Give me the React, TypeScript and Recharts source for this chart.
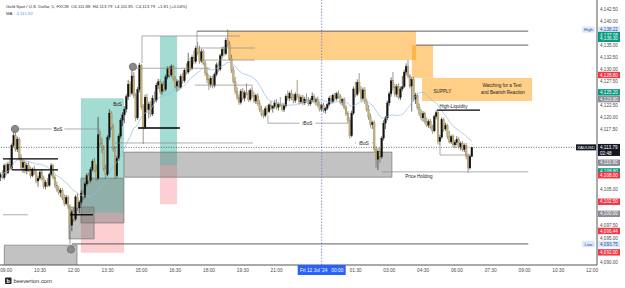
import { ComposedChart, Bar, Line, XAxis, YAxis, ReferenceArea, ReferenceLine, ReferenceDot } from "recharts";

// 5-minute XAUUSD bars, [open, high, low, close], first bar sits at slot FIRST_SLOT (slot 0 = 09:00)
const FIRST_SLOT = -3;
const candles: number[][] = [
  [4107.6, 4108.6, 4106.8, 4108.2], [4108.2, 4109.0, 4107.2, 4107.5], [4107.5, 4110.4, 4107.1, 4110.0], [4110.0, 4110.6, 4108.0, 4108.5],
  [4108.5, 4110.8, 4108.2, 4110.3], [4110.3, 4111.5, 4108.9, 4109.4], [4109.4, 4114.6, 4109.1, 4114.2], [4114.2, 4117.3, 4113.8, 4116.2],
  [4116.2, 4116.8, 4112.9, 4113.4], [4113.4, 4116.0, 4112.8, 4115.5], [4115.5, 4115.9, 4111.0, 4111.6], [4111.6, 4112.4, 4109.0, 4109.6],
  [4109.6, 4111.2, 4108.5, 4110.7], [4110.7, 4111.0, 4108.4, 4108.9],
  // s11..30
  [4108.9, 4110.6, 4108.2, 4110.1], [4110.1, 4110.9, 4108.7, 4109.2], [4109.2, 4109.8, 4107.4, 4107.9], [4107.9, 4109.6, 4107.6, 4109.3],
  [4109.3, 4110.0, 4108.1, 4108.5], [4108.5, 4109.2, 4106.3, 4106.8], [4106.8, 4107.9, 4105.6, 4107.4], [4107.4, 4109.0, 4107.0, 4108.6],
  [4108.6, 4109.3, 4106.9, 4107.3], [4107.3, 4107.9, 4105.2, 4105.7], [4105.7, 4107.0, 4105.1, 4106.5], [4106.5, 4107.4, 4105.5, 4105.9],
  [4105.9, 4108.6, 4105.6, 4108.2], [4108.2, 4110.5, 4107.8, 4110.0], [4110.0, 4110.3, 4107.1, 4107.6], [4107.6, 4108.1, 4105.4, 4105.9],
  [4105.9, 4106.7, 4104.6, 4105.1], [4105.1, 4105.8, 4103.9, 4104.4], [4104.4, 4105.4, 4103.5, 4104.9], [4104.9, 4105.3, 4102.8, 4103.3],
  // s31..37
  [4103.3, 4104.0, 4101.6, 4102.1], [4102.1, 4103.9, 4101.8, 4103.4], [4103.4, 4103.8, 4101.0, 4101.5], [4101.5, 4102.0, 4093.75, 4097.6],
  [4097.6, 4100.9, 4096.4, 4100.4], [4100.4, 4101.2, 4098.3, 4098.9], [4098.9, 4103.9, 4098.5, 4103.5],
  // s38..62
  [4103.5, 4104.3, 4100.6, 4101.2], [4101.2, 4102.8, 4100.1, 4102.4], [4102.4, 4104.8, 4101.9, 4104.3], [4104.3, 4105.0, 4102.9, 4103.5],
  [4103.5, 4106.6, 4103.2, 4106.2], [4106.2, 4108.4, 4105.8, 4107.9], [4107.9, 4108.6, 4106.2, 4106.9], [4106.9, 4109.7, 4106.5, 4109.2],
  [4109.2, 4111.3, 4108.8, 4110.9], [4110.9, 4111.6, 4108.6, 4109.0], [4109.0, 4110.2, 4106.9, 4107.4], [4107.4, 4120.1, 4107.0, 4116.4],
  [4116.4, 4117.3, 4114.0, 4114.6], [4114.6, 4115.8, 4112.6, 4113.3], [4113.3, 4114.2, 4108.8, 4109.4], [4109.4, 4110.2, 4107.2, 4108.1],
  [4108.1, 4116.3, 4107.8, 4115.9], [4115.9, 4121.7, 4115.3, 4120.9], [4120.9, 4121.3, 4117.4, 4118.0], [4118.0, 4118.6, 4112.9, 4113.6],
  [4113.6, 4114.0, 4107.2, 4107.9], [4107.9, 4112.0, 4107.5, 4111.4], [4111.4, 4116.6, 4111.0, 4116.1], [4116.1, 4119.9, 4115.6, 4119.4],
  [4119.4, 4121.1, 4118.2, 4120.5],
  // s63..74
  [4120.5, 4122.3, 4118.8, 4121.7], [4121.7, 4124.8, 4121.0, 4124.3], [4124.3, 4127.8, 4123.6, 4126.9], [4126.9, 4127.5, 4124.3, 4125.0],
  [4125.0, 4130.4, 4124.6, 4128.6], [4128.6, 4129.4, 4124.0, 4124.6], [4124.6, 4125.1, 4119.2, 4119.9], [4119.9, 4126.3, 4119.5, 4125.8],
  [4125.8, 4131.3, 4125.2, 4130.8], [4130.8, 4131.1, 4121.6, 4122.2], [4122.2, 4122.8, 4114.5, 4118.0], [4118.0, 4124.7, 4117.6, 4124.2],
  // s75..92
  [4124.2, 4124.9, 4121.0, 4121.6], [4121.6, 4123.3, 4119.8, 4122.8], [4122.8, 4123.5, 4120.1, 4120.7], [4120.7, 4124.6, 4120.3, 4124.0],
  [4124.0, 4125.4, 4122.9, 4123.5], [4123.5, 4127.2, 4123.1, 4126.7], [4126.7, 4128.0, 4125.9, 4127.4], [4127.4, 4127.9, 4124.8, 4125.4],
  [4125.4, 4127.3, 4124.7, 4126.8], [4126.8, 4127.6, 4125.2, 4125.8], [4125.8, 4128.9, 4125.4, 4128.4], [4128.4, 4130.6, 4127.9, 4130.1],
  [4130.1, 4130.7, 4128.2, 4128.8], [4128.8, 4131.0, 4128.4, 4130.5], [4130.5, 4130.9, 4127.6, 4128.1], [4128.1, 4128.6, 4126.0, 4126.5],
  [4126.5, 4127.9, 4125.3, 4127.4], [4127.4, 4127.8, 4125.5, 4126.2],
  // s93..126
  [4126.2, 4129.0, 4125.9, 4128.5], [4128.5, 4129.3, 4127.0, 4127.6], [4127.6, 4130.2, 4127.2, 4129.8], [4129.8, 4131.2, 4128.9, 4129.4],
  [4129.4, 4133.4, 4129.0, 4131.6], [4131.6, 4132.4, 4129.6, 4130.2], [4130.2, 4132.9, 4129.8, 4132.5], [4132.5, 4133.8, 4131.0, 4131.6],
  [4131.6, 4134.8, 4131.2, 4134.3], [4134.3, 4135.6, 4132.9, 4133.4], [4133.4, 4134.9, 4131.1, 4131.7], [4131.7, 4134.2, 4131.3, 4133.6],
  [4133.6, 4134.1, 4130.8, 4131.2], [4131.2, 4131.8, 4128.6, 4129.2], [4129.2, 4130.4, 4127.1, 4127.8], [4127.8, 4128.9, 4125.7, 4126.8],
  [4126.8, 4128.6, 4126.2, 4128.1], [4128.1, 4128.7, 4126.0, 4126.6], [4126.6, 4129.3, 4126.2, 4128.9], [4128.9, 4131.4, 4128.5, 4130.9],
  [4130.9, 4131.6, 4129.4, 4130.0], [4130.0, 4133.2, 4129.6, 4132.8], [4132.8, 4134.6, 4132.2, 4134.1], [4134.1, 4134.8, 4132.6, 4133.2],
  [4133.2, 4136.5, 4132.9, 4136.0], [4136.0, 4138.22, 4134.6, 4135.1], [4135.1, 4135.8, 4131.8, 4132.3], [4132.3, 4133.0, 4129.2, 4129.8],
  [4129.8, 4130.6, 4127.0, 4127.5], [4127.5, 4128.4, 4124.8, 4125.4], [4125.4, 4126.3, 4123.6, 4124.2], [4124.2, 4124.8, 4122.6, 4123.1],
  [4123.1, 4125.9, 4122.7, 4125.4], [4125.4, 4126.1, 4123.5, 4124.0],
  // s127..185
  [4124.0, 4125.6, 4123.3, 4125.1], [4125.1, 4127.1, 4124.6, 4124.9], [4124.9, 4125.7, 4123.2, 4123.7], [4123.7, 4126.0, 4123.3, 4125.6],
  [4125.6, 4126.4, 4124.1, 4124.6], [4124.6, 4125.3, 4123.0, 4123.4], [4123.4, 4124.9, 4122.8, 4124.5], [4124.5, 4125.0, 4122.4, 4122.9],
  [4122.9, 4123.6, 4121.1, 4121.6], [4121.6, 4122.4, 4120.2, 4120.7], [4120.7, 4121.5, 4119.8, 4120.4], [4120.4, 4122.3, 4120.0, 4121.8],
  [4121.8, 4122.6, 4120.6, 4121.2], [4121.2, 4122.9, 4120.9, 4122.6], [4122.6, 4123.4, 4121.5, 4121.9], [4121.9, 4122.6, 4121.0, 4122.3],
  [4122.3, 4123.6, 4121.8, 4123.0], [4123.0, 4123.8, 4121.6, 4122.1], [4122.1, 4123.1, 4121.4, 4122.7], [4122.7, 4124.2, 4122.2, 4122.5],
  [4122.5, 4123.0, 4121.2, 4121.6], [4121.6, 4122.9, 4121.1, 4122.4], [4122.4, 4124.8, 4122.0, 4124.4], [4124.4, 4125.6, 4123.5, 4124.0],
  [4124.0, 4125.4, 4123.4, 4125.0], [4125.0, 4125.8, 4123.6, 4124.1], [4124.1, 4124.9, 4122.9, 4123.5], [4123.5, 4125.2, 4123.0, 4124.8],
  [4124.8, 4127.8, 4123.9, 4124.3], [4124.3, 4124.9, 4122.6, 4123.2], [4123.2, 4124.6, 4122.8, 4124.1], [4124.1, 4124.7, 4122.5, 4123.0],
  [4123.0, 4124.3, 4122.6, 4123.8], [4123.8, 4125.0, 4123.1, 4123.4], [4123.4, 4124.2, 4122.4, 4122.8], [4122.8, 4124.0, 4122.4, 4123.6],
  [4123.6, 4125.2, 4123.1, 4124.4], [4124.4, 4124.9, 4122.9, 4123.3], [4123.3, 4124.1, 4122.5, 4123.7], [4123.7, 4124.3, 4122.1, 4122.5],
  [4122.5, 4123.3, 4121.2, 4121.7], [4121.7, 4122.9, 4121.3, 4122.6], [4122.6, 4123.1, 4121.0, 4121.4], [4121.4, 4122.2, 4120.8, 4121.9],
  [4121.9, 4123.0, 4121.5, 4122.7], [4122.7, 4124.4, 4122.3, 4124.0], [4124.0, 4124.6, 4122.8, 4123.2], [4123.2, 4124.9, 4122.9, 4124.6],
  [4124.6, 4125.1, 4123.4, 4123.9], [4123.9, 4125.3, 4123.5, 4124.9], [4124.9, 4125.6, 4123.9, 4124.3], [4124.3, 4124.8, 4122.7, 4123.1],
  [4123.1, 4124.0, 4122.4, 4123.7], [4123.7, 4124.2, 4121.6, 4122.0], [4122.0, 4122.6, 4120.3, 4120.8], [4120.8, 4121.3, 4118.8, 4119.4],
  [4119.4, 4120.0, 4115.6, 4116.2], [4116.2, 4121.4, 4115.9, 4120.9], [4120.9, 4126.4, 4120.5, 4125.9],
  // s186..200
  [4125.9, 4127.4, 4124.2, 4124.8], [4124.8, 4127.9, 4124.4, 4127.3], [4127.3, 4129.2, 4125.2, 4125.8], [4125.8, 4126.5, 4123.3, 4123.9],
  [4123.9, 4126.2, 4123.5, 4125.7], [4125.7, 4126.3, 4122.8, 4123.3], [4123.3, 4123.9, 4121.2, 4121.7], [4121.7, 4122.6, 4119.5, 4120.1],
  [4120.1, 4120.8, 4117.9, 4118.5], [4118.5, 4119.3, 4117.6, 4118.9], [4118.9, 4119.4, 4112.9, 4113.4], [4113.4, 4114.0, 4109.6, 4111.3],
  [4111.3, 4113.6, 4109.1, 4113.0], [4113.0, 4113.8, 4110.6, 4111.8], [4111.8, 4116.1, 4111.4, 4115.7],
  // s201..220
  [4115.7, 4119.4, 4115.2, 4118.8], [4118.8, 4120.3, 4117.6, 4119.9], [4119.9, 4123.5, 4119.4, 4123.0], [4123.0, 4125.4, 4122.4, 4124.9],
  [4124.9, 4128.3, 4124.3, 4127.6], [4127.6, 4129.4, 4125.6, 4126.2], [4126.2, 4127.0, 4124.3, 4124.8], [4124.8, 4126.9, 4124.2, 4126.4],
  [4126.4, 4127.1, 4123.7, 4124.1], [4124.1, 4126.4, 4123.6, 4125.9], [4125.9, 4128.6, 4125.4, 4126.4], [4126.4, 4129.9, 4126.1, 4129.4],
  [4129.4, 4131.2, 4128.7, 4130.6], [4130.6, 4131.9, 4128.1, 4128.6], [4128.6, 4129.0, 4126.0, 4126.5], [4126.5, 4128.4, 4121.2, 4127.9],
  [4127.9, 4128.4, 4123.3, 4123.8], [4123.8, 4125.1, 4122.8, 4124.6], [4124.6, 4125.0, 4121.6, 4122.1], [4122.1, 4122.9, 4120.3, 4120.8],
  // s221..248
  [4120.8, 4121.7, 4119.4, 4119.9], [4119.9, 4121.3, 4119.1, 4120.8], [4120.8, 4121.2, 4118.6, 4119.1], [4119.1, 4120.0, 4118.0, 4118.4],
  [4118.4, 4119.6, 4117.8, 4119.2], [4119.2, 4119.7, 4117.6, 4118.0], [4118.0, 4118.5, 4116.6, 4117.2], [4117.2, 4120.6, 4116.9, 4120.2],
  [4120.2, 4121.5, 4119.6, 4121.0], [4121.0, 4121.3, 4114.4, 4115.0], [4115.0, 4116.4, 4114.1, 4115.9], [4115.9, 4120.0, 4115.5, 4119.5],
  [4119.5, 4119.9, 4117.0, 4117.6], [4117.6, 4118.9, 4117.2, 4118.3], [4118.3, 4118.7, 4115.5, 4116.0], [4116.0, 4117.2, 4114.6, 4114.9],
  [4114.9, 4116.4, 4114.5, 4116.0], [4116.0, 4116.5, 4113.8, 4114.3], [4114.3, 4115.3, 4113.6, 4114.8], [4114.8, 4116.1, 4114.2, 4115.4],
  [4115.4, 4115.9, 4113.5, 4113.9], [4113.9, 4115.0, 4113.2, 4114.6], [4114.6, 4115.1, 4112.9, 4113.3], [4113.3, 4114.6, 4112.8, 4114.2],
  [4114.2, 4114.7, 4111.3, 4111.9], [4111.9, 4112.5, 4108.5, 4109.5], [4109.5, 4112.3, 4109.2, 4111.88], [4111.88, 4113.79, 4111.85, 4113.79],
];

const MA_PERIOD = 20;
const LAST_PRICE = 4113.79;
const CROSSHAIR_SLOT = 168;

// time axis
const xTicks = [0, 18, 36, 54, 72, 90, 108, 126, 144, 168, 186, 204, 222, 240, 258, 276, 294, 312];
const xTickLabels = ["09:00", "10:30", "12:00", "13:30", "15:00", "16:30", "18:00", "19:30", "21:00", "Fri 12 Jul '24   00:00",
  "01:30", "03:00", "04:30", "06:00", "07:30", "09:00", "10:30", "12:00"];

// price axis
const yTicks = [4142.5, 4140, 4135, 4132.5, 4130, 4127.5, 4122.5, 4120, 4117.5, 4105, 4097.5, 4095, 4090];
const priceTags: [number, string][] = [
  [4138.22, "high"], [4137.08, "green"], [4136.3, "green"], [4128.8, "red"], [4125.2, "green"], [4123.8, "gray"],
  [4110.6, "gray"], [4108.8, "green"], [4108.0, "red"], [4102.5, "red"], [4100.0, "gray"], [4096.44, "red"],
  [4093.75, "low"], [4092.0, "red"], [4113.79, "last"],
];

// drawn zones [slotFrom, slotTo, priceA, priceB]
const grayZones = [[-1, 37.7, 4093.5, 4089.0], [33.4, 46.8, 4101.4, 4094.8], [39.8, 62.7, 4107.4, 4098.1], [62.7, 205.4, 4112.8, 4107.6]];
const tealZones = [[39.8, 62.7, 4124.0, 4100.2], [81.9, 91, 4136.9, 4110.1]];
const pinkZones = [[39.8, 62.7, 4100.2, 4091.9], [81.9, 91, 4110.1, 4102.0]];
const orangeZones = [[118.1, 218.2, 4137.9, 4131.9], [216.1, 227.3, 4135.0, 4128.2], [221.4, 280, 4128.2, 4123.4]];

// drawn lines [slot1, price1, slot2, price2]
const thinLines = [
  [4.7, 4117.6, 50, 4117.6], [-1.7, 4099.8, 11.6, 4099.8], [58, 4114.7, 131.4, 4114.7], [72.3, 4136.9, 124.5, 4136.9],
  [72.3, 4136.9, 72.3, 4131.3], [67.5, 4130.2, 108.5, 4130.2], [100.5, 4126.7, 131.4, 4126.7], [101.6, 4134.4, 132.5, 4134.4],
  [103.2, 4131.9, 132.5, 4131.9], [101.6, 4137.9, 101.6, 4134.4], [139.4, 4118.8, 182, 4118.8], [139.4, 4120.5, 139.4, 4118.8],
  [185.7, 4114.7, 195.3, 4114.7], [200, 4108.7, 278, 4108.7], [231, 4114.0, 231, 4112.2], [231, 4112.2, 247, 4112.2],
];
const darkLines = [[35, 4093.75, 278, 4093.75], [101.6, 4137.9, 278, 4137.9], [218.2, 4135.0, 278, 4135.0]];
const thickLines = [
  [-1.7, 4111.4, 27.6, 4111.4], [3.1, 4109.1, 27.6, 4109.1], [34, 4099.8, 46.2, 4099.8],
  [70.2, 4117.8, 92.5, 4117.8], [229.4, 4121.5, 252.3, 4121.5],
];
const swingDots = [[4.7, 4117.6], [67.5, 4130.5], [34.5, 4092.6]];

// annotations [slot, price, text]
const boxedNotes: [number, number, string][] = [[27.6, 4117.6, "BoS"], [160.4, 4118.8, "iBoS"], [190.5, 4114.7, "iBoS"]];
const notes: [number, number, string][] = [
  [59.3, 4122.8, "BoS"], [219.8, 4107.7, "Price Holding"], [232.3, 4125.5, "SUPPLY"], [238.2, 4122.2, "High-Liquidity"],
  [264, 4126.6, "Watching for a Test"], [264.5, 4125.1, "and Bearish Reaction"],
];

const X_DOMAIN = [-3.3, 314.6];
const Y_DOMAIN = [4089.38, 4144.36];
const FONT = "'Liberation Sans', Arial, sans-serif";
const BULL = "#111111";
const BEAR = "#c6b07a";
const TAG_FILL: Record<string, string> = {
  green: "#089981", red: "#f23645", gray: "#8a8d96", last: "#131722", high: "#dce9fb", low: "#dce9fb",
};

const fmt = (v: number) => v.toLocaleString("en-US", { minimumFractionDigits: 2, maximumFractionDigits: 2 });

const rows = candles.map((c, i) => {
  const from = Math.max(0, i - MA_PERIOD + 1);
  const win = candles.slice(from, i + 1);
  const ma = win.reduce((a, k) => a + k[3], 0) / win.length;
  return { s: FIRST_SLOT + i, open: c[0], high: c[1], low: c[2], close: c[3], range: [c[2], c[1]], ma };
});

function Candle(props: any) {
  const { x, y, width, height, payload } = props;
  if (x == null || payload == null) return null;
  const { open, high, low, close } = payload;
  const top = Math.min(y, y + height);
  const span = Math.abs(height) || 1;
  const py = (p: number) => top + ((high - p) / (high - low || 1)) * span;
  const cx = x + width / 2;
  const up = close >= open;
  const bodyTop = py(Math.max(open, close));
  const bodyH = Math.max(0.6, Math.abs(py(open) - py(close)));
  return (
    <g>
      <line x1={cx} x2={cx} y1={top} y2={top + span} stroke={up ? BULL : "#5a5237"} strokeWidth={0.6} />
      <rect x={cx - 0.9} y={bodyTop} width={1.8} height={bodyH} fill={up ? BULL : BEAR} stroke={up ? BULL : "#86774c"} strokeWidth={0.25} />
    </g>
  );
}

function PriceTick(props: any) {
  const { x, y, payload } = props;
  const v = payload.value;
  const tag = priceTags.find((t) => Math.abs(t[0] - v) < 1e-6);
  const ax = x;
  if (!tag) {
    return <text x={ax + 3} y={y + 1.6} fontSize={4.6} fontFamily={FONT} fill="#4a4a4a">{fmt(v)}</text>;
  }
  const kind = tag[1];
  if (kind === "last") {
    return (
      <g>
        <rect x={ax - 21} y={y - 3} width={20} height={6} fill={TAG_FILL.last} />
        <text x={ax - 11} y={y + 1.6} textAnchor="middle" fontSize={4.2} fontFamily={FONT} fill="#fff">XAUUSD</text>
        <rect x={ax + 1} y={y - 3.4} width={22} height={12} fill={TAG_FILL.last} />
        <text x={ax + 3} y={y + 1.6} fontSize={4.6} fontFamily={FONT} fill="#fff">{fmt(v)}</text>
        <text x={ax + 3} y={y + 7.3} fontSize={4.6} fontFamily={FONT} fill="#fff">02:48</text>
      </g>
    );
  }
  const light = kind === "high" || kind === "low";
  return (
    <g>
      {light && <rect x={ax - 15} y={y - 3.2} width={13} height={6.4} rx={1.2} fill={TAG_FILL[kind]} />}
      {light && (
        <text x={ax - 8.5} y={y + 1.6} textAnchor="middle" fontSize={4.4} fontFamily={FONT} fill="#2a4f9a">
          {kind === "high" ? "High" : "Low"}
        </text>
      )}
      <rect x={ax + 1} y={y - 3.2} width={22} height={6.4} fill={TAG_FILL[kind]} />
      <text x={ax + 3} y={y + 1.6} fontSize={4.6} fontFamily={FONT} fill={light ? "#2a4f9a" : "#fff"}>{fmt(v)}</text>
    </g>
  );
}

function TimeTick(props: any) {
  const { x, y, payload } = props;
  const label = xTickLabels[xTicks.indexOf(payload.value)];
  if (payload.value === CROSSHAIR_SLOT) {
    return (
      <g>
        <rect x={x - 24} y={y} width={48} height={10} fill="#2962ff" />
        <text x={x} y={y + 6.6} textAnchor="middle" fontSize={4.8} fontFamily={FONT} fill="#fff" style={{ whiteSpace: "pre" }}>{label}</text>
      </g>
    );
  }
  return <text x={x} y={y + 6.6} textAnchor="middle" fontSize={4.8} fontFamily={FONT} fill="#4a4a4a">{label}</text>;
}

export default function App() {
  return (
    <div style={{ position: "relative", width: 625, height: 288, background: "#fff" }}>
      <style>{"body{margin:0}"}</style>
      <ComposedChart width={625} height={288} data={rows} margin={{ top: 0, right: 0, bottom: 0, left: 0 }}>
        <XAxis dataKey="s" type="number" domain={X_DOMAIN} ticks={xTicks} interval={0} height={23} tickSize={0} tickMargin={0}
          tickLine={false} axisLine={{ stroke: "#555" }} tick={(p: any) => <TimeTick {...p} />} allowDataOverflow />
        <YAxis orientation="right" type="number" domain={Y_DOMAIN} ticks={[...yTicks, ...priceTags.map((t) => t[0])]} interval={0}
          width={28} tickSize={0} tickMargin={0} tickLine={false} axisLine={{ stroke: "#555" }}
          tick={(p: any) => <PriceTick {...p} />} allowDataOverflow />

        {tealZones.map((z, i) => (
          <ReferenceArea key={`t${i}`} x1={z[0]} x2={z[1]} y1={z[2]} y2={z[3]} fill="#22ab94" fillOpacity={0.42} stroke="none" ifOverflow="hidden" />
        ))}
        {pinkZones.map((z, i) => (
          <ReferenceArea key={`p${i}`} x1={z[0]} x2={z[1]} y1={z[2]} y2={z[3]} fill="#f23645" fillOpacity={0.24} stroke="none" ifOverflow="hidden" />
        ))}
        {grayZones.map((z, i) => (
          <ReferenceArea key={`g${i}`} x1={z[0]} x2={z[1]} y1={z[2]} y2={z[3]} fill="#787878" fillOpacity={0.45} stroke="#666" strokeWidth={0.6} ifOverflow="hidden" />
        ))}
        {orangeZones.map((z, i) => (
          <ReferenceArea key={`o${i}`} x1={z[0]} x2={z[1]} y1={z[2]} y2={z[3]} fill="#ff9800" fillOpacity={0.47} stroke="none" ifOverflow="hidden" />
        ))}

        <ReferenceLine x={CROSSHAIR_SLOT} stroke="#6677e0" strokeWidth={0.8} strokeDasharray="1.5 1.5" />
        <ReferenceLine y={LAST_PRICE} stroke="#333" strokeWidth={0.7} strokeDasharray="1 1.5" />

        {thinLines.map((l, i) => (
          <ReferenceLine key={`l${i}`} segment={[{ x: l[0], y: l[1] }, { x: l[2], y: l[3] }]} stroke="#8a8a8a" strokeWidth={0.7} ifOverflow="visible" />
        ))}
        {darkLines.map((l, i) => (
          <ReferenceLine key={`d${i}`} segment={[{ x: l[0], y: l[1] }, { x: l[2], y: l[3] }]} stroke="#3a3a3a" strokeWidth={0.8} ifOverflow="visible" />
        ))}

        <Bar dataKey="range" barSize={2} shape={(p: any) => <Candle {...p} />} isAnimationActive={false} />
        <Line dataKey="ma" type="linear" stroke="#8fbbe3" strokeWidth={0.7} dot={false} activeDot={false} isAnimationActive={false} />

        {thickLines.map((l, i) => (
          <ReferenceLine key={`k${i}`} segment={[{ x: l[0], y: l[1] }, { x: l[2], y: l[3] }]} stroke="#000" strokeWidth={1.3} ifOverflow="visible" />
        ))}
        {swingDots.map((d, i) => (
          <ReferenceDot key={`c${i}`} x={d[0]} y={d[1]} r={3.6} fill="#8a8a8a" stroke="#777" ifOverflow="visible" />
        ))}
        {boxedNotes.map((n, i) => (
          <ReferenceDot key={`bn${i}`} x={n[0]} y={n[1]} r={0} ifOverflow="visible"
            shape={(p: any) => (
              <g>
                <rect x={p.cx - n[2].length * 1.6 - 1.5} y={p.cy - 2.6} width={n[2].length * 3.2 + 3} height={5.2} fill="#fff" />
                <text x={p.cx} y={p.cy + 1.6} textAnchor="middle" fontSize={4.6} fontFamily={FONT} fill="#222">{n[2]}</text>
              </g>
            )} />
        ))}
        {notes.map((n, i) => (
          <ReferenceDot key={`n${i}`} x={n[0]} y={n[1]} r={0} ifOverflow="visible"
            shape={(p: any) => (
              <text x={p.cx} y={p.cy + 1.6} textAnchor="middle" fontSize={4.6} fontFamily={FONT} fill="#222">{n[2]}</text>
            )} />
        ))}
      </ComposedChart>

      <svg width={625} height={288} style={{ position: "absolute", left: 0, top: 0, pointerEvents: "none" }}>
        <text x={6} y={8} fontSize={4.3} fontFamily={FONT} fill="#333" style={{ whiteSpace: "pre" }}>
          {"Gold Spot / U.S. Dollar, 5, FXCM  O4,111.88  H4,113.79  L4,111.85  C4,113.79  +1.81 (+0.04%)"}
        </text>
        <text x={6} y={14.5} fontSize={4.3} fontFamily={FONT} fill="#333">
          MA <tspan fill="#5b9bd5" dx={3}>4,115.82</tspan>
        </text>
        <rect x={5} y={277.5} width={6.5} height={6.5} rx={1} fill="#222" />
        <text x={8.2} y={282.8} textAnchor="middle" fontSize={5.5} fontWeight="bold" fontFamily={FONT} fill="#fff">b</text>
        <text x={13.5} y={283} fontSize={5.8} fontFamily={FONT} fill="#333">beeverton.com</text>
      </svg>
    </div>
  );
}
